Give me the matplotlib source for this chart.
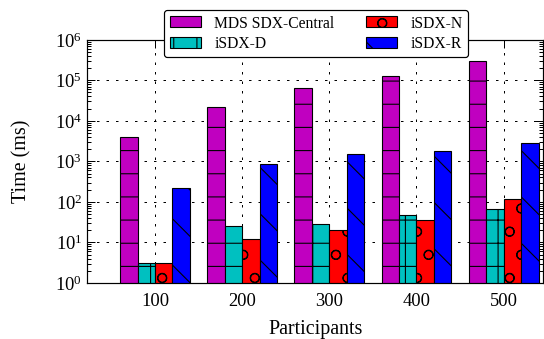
import numpy as np
import matplotlib
matplotlib.use('Agg')
import matplotlib.pyplot as plt

# dados
participants = ['100', '200', '300', '400', '500']
mds_central = [4000, 22000, 65000, 125000, 300000]
isdx_d = [3.1, 26, 29, 48, 65]
isdx_n = [3.1, 12, 20, 36, 115]
isdx_r = [225, 880, 1480, 1850, 2900]

series = [mds_central, isdx_d, isdx_n, isdx_r]
labels = ['MDS SDX-Central', 'iSDX-D', 'iSDX-N', 'iSDX-R']
colors = ['#c000c0', '#00c0c0', '#ff0000', '#0000ff']
hatches = ['-', '+', 'o', '\\']

# dpi escolhido para o espacamento das hachuras ficar parecido
DPI = 139


def px(v):
    # converte pixels em pontos
    return v * 72.0 / DPI


plt.rcParams['font.family'] = ['Liberation Serif', 'DejaVu Serif']
plt.rcParams['mathtext.fontset'] = 'stix'
plt.rcParams['hatch.linewidth'] = px(1.1)
plt.rcParams['hatch.color'] = 'black'

fig = plt.figure(figsize=(544.3 / DPI, 339.3 / DPI), dpi=DPI)
ax = fig.add_axes([87 / 544, 1 - 283 / 339, 456 / 544, 243 / 339])

x = np.arange(len(participants)) + 1
width = 0.2
offsets = [-0.3, -0.1, 0.1, 0.3]

ax.set_yscale('log')
for vals, lab, col, hat, off in zip(series, labels, colors, hatches, offsets):
    ax.bar(x + off, vals, width, color=col, edgecolor='black', linewidth=px(1.1),
           hatch=hat, label=lab, zorder=2)

ax.set_ylim(1, 1e6)
ax.set_xlim(0.22, 5.455)
ax.set_xticks(x)
ax.set_xticklabels(participants)

ax.tick_params(axis='both', which='both', direction='in', top=True, right=True,
               labelsize=px(18.5), width=px(1))
ax.tick_params(axis='y', which='major', length=px(8), pad=px(5))
ax.tick_params(axis='y', which='minor', length=px(4))
ax.tick_params(axis='x', which='major', length=px(8), pad=px(10))
ax.yaxis.set_minor_locator(matplotlib.ticker.LogLocator(base=10, subs=np.arange(2, 10), numticks=20))
ax.yaxis.set_minor_formatter(matplotlib.ticker.NullFormatter())

for s in ax.spines.values():
    s.set_linewidth(px(1.2))

ax.grid(True, which='major', color='black', linewidth=px(1), linestyle=(0, (2.5, 7)), zorder=0)
ax.set_axisbelow(True)

ax.set_xlabel('Participants', fontsize=px(20))
ax.xaxis.set_label_coords(0.5, -0.15)
ax.set_ylabel('Time (ms)', fontsize=px(20))
ax.yaxis.set_label_coords(-0.122, 0.5)

leg = ax.legend(ncol=2, loc='upper center', bbox_to_anchor=(316 / 544, 1 - 10 / 339),
                bbox_transform=fig.transFigure, fontsize=px(15.7), frameon=True,
                fancybox=True, framealpha=1, edgecolor='black', borderaxespad=0,
                handlelength=2.0, handleheight=0.7, handletextpad=0.85,
                columnspacing=2.0, labelspacing=0.3, borderpad=0.35)
leg.get_frame().set_linewidth(px(1.2))
leg.set_zorder(5)

fig.savefig('out.png', dpi=DPI)
